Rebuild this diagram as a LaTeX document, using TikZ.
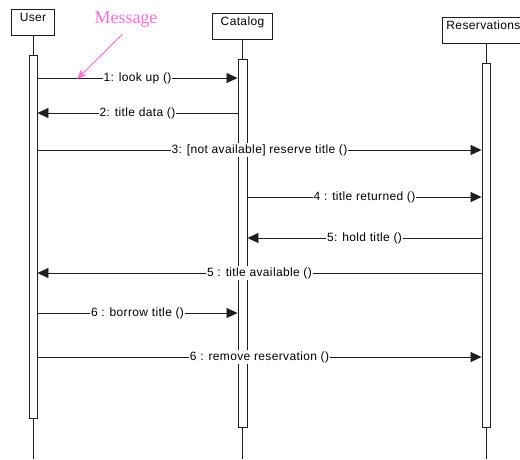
\documentclass[tikz,border=0pt]{standalone}
\usepackage{fontspec}
\setmainfont{Liberation Sans}[LetterSpace=3]
\newfontfamily\notefont{Liberation Serif}
\usepackage{tikz}
\usetikzlibrary{arrows.meta, positioning, calc}
\definecolor{mydark}{RGB}{30,30,30}
\definecolor{mypink}{RGB}{255,110,210}
\tikzset{
  objbox/.style={rectangle, draw=mydark, fill=white, line width=0.9pt,
    inner sep=0pt, text height=12pt, text depth=14pt,
    font=\fontsize{12}{14}\selectfont},
  actbar/.style={rectangle, draw=mydark, fill=white, line width=0.9pt,
    minimum width=8pt, inner sep=0pt},
  lifeline/.style={line width=0.9pt, color=mydark},
  msg/.style={-{Triangle[length=11pt, width=10pt]}, line width=0.8pt, color=mydark},
  msglabel/.style={fill=white, inner sep=1pt, text=black,
    font=\fontsize{12}{14}\selectfont},
  notearrow/.style={-{Stealth[length=10pt, width=8pt]}, line width=0.9pt, color=mypink}
}

\begin{document}
\begin{tikzpicture}[x=1pt, y=-1pt]
  \useasboundingbox (0,0) rectangle (520,459);
  \clip (0,0) rectangle (520,459);
  \coordinate (bottom) at (0,459);

  % Objects
  \node[objbox, minimum width=43pt, anchor=north] (user) at (33,9) {User};
  \node[objbox, minimum width=60pt, anchor=north] (catalog) at (242.5,13) {Catalog};
  \node[objbox, minimum width=90pt, anchor=north west, text width=84pt, align=left] (reserv) at (442,17) {\hspace*{1pt}Reservations};

  % Activation bars
  \node[actbar, minimum height=363pt] (uact) at (33,236.5) {};
  \node[actbar, minimum width=9pt, minimum height=368pt] (cact) at (242.5,243) {};
  \node[actbar, minimum height=364pt] (ract) at (486,245) {};

  % Lifelines
  \draw[lifeline] (user.south -| uact) -- (uact.north);
  \draw[lifeline] (uact.south) -- (uact.south |- bottom);
  \draw[lifeline] (catalog.south -| cact) -- (cact.north);
  \draw[lifeline] (cact.south) -- (cact.south |- bottom);
  \draw[lifeline] (reserv.south -| ract) -- (ract.north);
  \draw[lifeline] (ract.south) -- (ract.south |- bottom);

  % Message rows
  \coordinate (r1) at (0,78);
  \coordinate (r2) at (0,113);
  \coordinate (r3) at (0,150);
  \coordinate (r4) at (0,197);
  \coordinate (r5) at (0,238);
  \coordinate (r6) at (0,273);
  \coordinate (r7) at (0,313);
  \coordinate (r8) at (0,357);

  % Messages
  \draw[msg] (uact.east |- r1) -- (cact.west |- r1) node[msglabel, midway] {1: look up ()};
  \draw[msg] (cact.west |- r2) -- (uact.east |- r2) node[msglabel, midway] {2: title data ()};
  \draw[msg] (uact.east |- r3) -- (ract.west |- r3) node[msglabel, midway] {3: [not available] reserve title ()};
  \draw[msg] (cact.east |- r4) -- (ract.west |- r4) node[msglabel, midway] {4 : title returned ()};
  \draw[msg] (ract.west |- r5) -- (cact.east |- r5) node[msglabel, midway] {5: hold title ()};
  \draw[msg] (ract.west |- r6) -- (uact.east |- r6) node[msglabel, midway] {5 : title available ()};
  \draw[msg] (uact.east |- r7) -- (cact.west |- r7) node[msglabel, midway] {6 : borrow title ()};
  \draw[msg] (uact.east |- r8) -- (ract.west |- r8) node[msglabel, midway] {6 : remove reservation ()};

  % Note
  \node[font=\notefont\fontsize{18}{20}\selectfont, text=mypink, anchor=base] (note) at (126,23.3) {Message};
  \coordinate (notetip) at (77,79);
  \draw[notearrow, shorten <=5pt] (note.south) -- (notetip);
\end{tikzpicture}
\end{document}
